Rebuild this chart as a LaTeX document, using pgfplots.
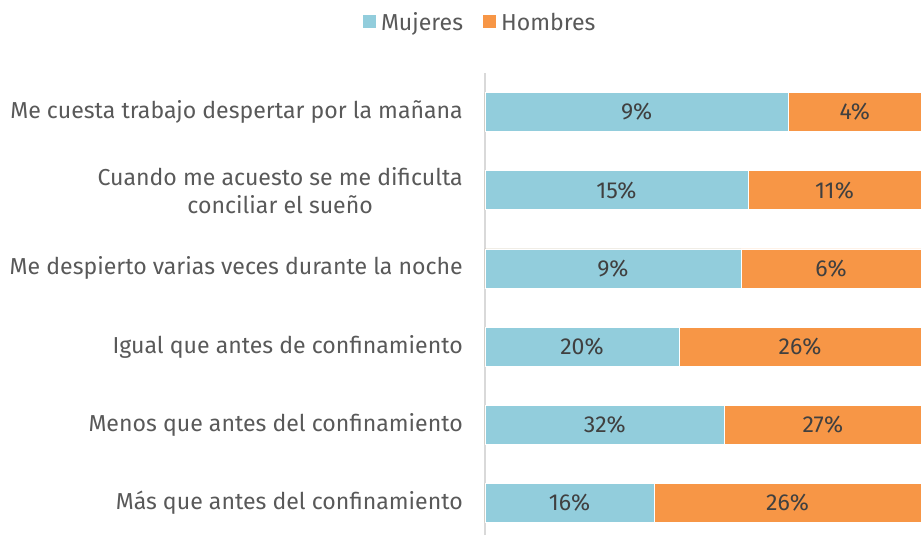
\documentclass[border=0pt]{standalone}
\usepackage{pgfplots}
\pgfplotsset{compat=1.18}
\usepackage{fontspec}
\setmainfont{Fira Sans}
\definecolor{muj}{HTML}{92CDDC}
\definecolor{hom}{HTML}{F79646}
\definecolor{txt}{HTML}{595959}
\definecolor{lbl}{HTML}{404040}
\definecolor{axl}{HTML}{D9D9D9}
\newcommand{\fs}{\fontsize{23.1}{28}\selectfont}
\begin{document}
\begin{tikzpicture}
\begin{axis}[name=ax, scale only axis, width=436pt, height=462pt,
  xmin=0, xmax=100, ymin=-0.41, ymax=5.5,
  axis x line=none, axis y line*=left,
  y axis line style={axl, line width=2pt, -},
  ytick={0,...,5}, major tick length=0pt,
  yticklabels={M\'as que antes del confinamiento, Menos que antes del confinamiento, Igual que antes de confinamiento, Me despierto varias veces durante la noche, {Cuando me acuesto se me dificulta\\conciliar el sueño}, Me cuesta trabajo despertar por la mañana},
  yticklabel style={align=center, font=\fs, text=txt, inner sep=0pt, xshift=-22pt},
  legend columns=2,
  legend style={at={(-0.011,1.11)}, anchor=center, draw=none, font=\fs, text=txt,
    /tikz/every odd column/.append style={column sep=3pt},
    /tikz/every even column/.append style={column sep=18pt}},
  legend image code/.code={\fill[#1] (0pt,-5.5pt) rectangle (13pt,7.5pt);},
  every node near coord/.style={anchor=center, font=\fs, text=lbl},
]
\addlegendimage{fill=muj, draw=none}
\addlegendentry{Mujeres}
\addlegendimage{fill=hom, draw=none}
\addlegendentry{Hombres}
% Hombres (remaining share, drawn as full bar underneath)
\addplot[xbar, bar width=39pt, bar shift=0pt, fill=hom, draw=white, line width=0.6pt, forget plot] coordinates {
 (100,0) (100,1) (100,2) (100,3) (100,4) (100,5)};
% Mujeres share
\addplot[xbar, bar width=39pt, bar shift=0pt, fill=muj, draw=white, line width=0.6pt, forget plot] coordinates {
 (38.8,0) (55.0,1) (44.5,2) (58.7,3) (60.3,4) (69.6,5)};
% Labels Mujeres
\addplot[only marks, mark=none, nodes near coords, point meta=explicit symbolic, forget plot] coordinates {
 (19.4,0) [16\%] (27.5,1) [32\%] (22.25,2) [20\%] (29.35,3) [9\%] (30.15,4) [15\%] (34.8,5) [9\%]};
% Labels Hombres
\addplot[only marks, mark=none, nodes near coords, point meta=explicit symbolic, forget plot] coordinates {
 (69.4,0) [26\%] (77.5,1) [27\%] (72.25,2) [26\%] (79.35,3) [6\%] (80.15,4) [11\%] (84.8,5) [4\%]};
\end{axis}
\pgfresetboundingbox
\path[use as bounding box] ([xshift=-485pt,yshift=-1pt]ax.south west) rectangle ([yshift=73pt]ax.north east);
\end{tikzpicture}
\end{document}
